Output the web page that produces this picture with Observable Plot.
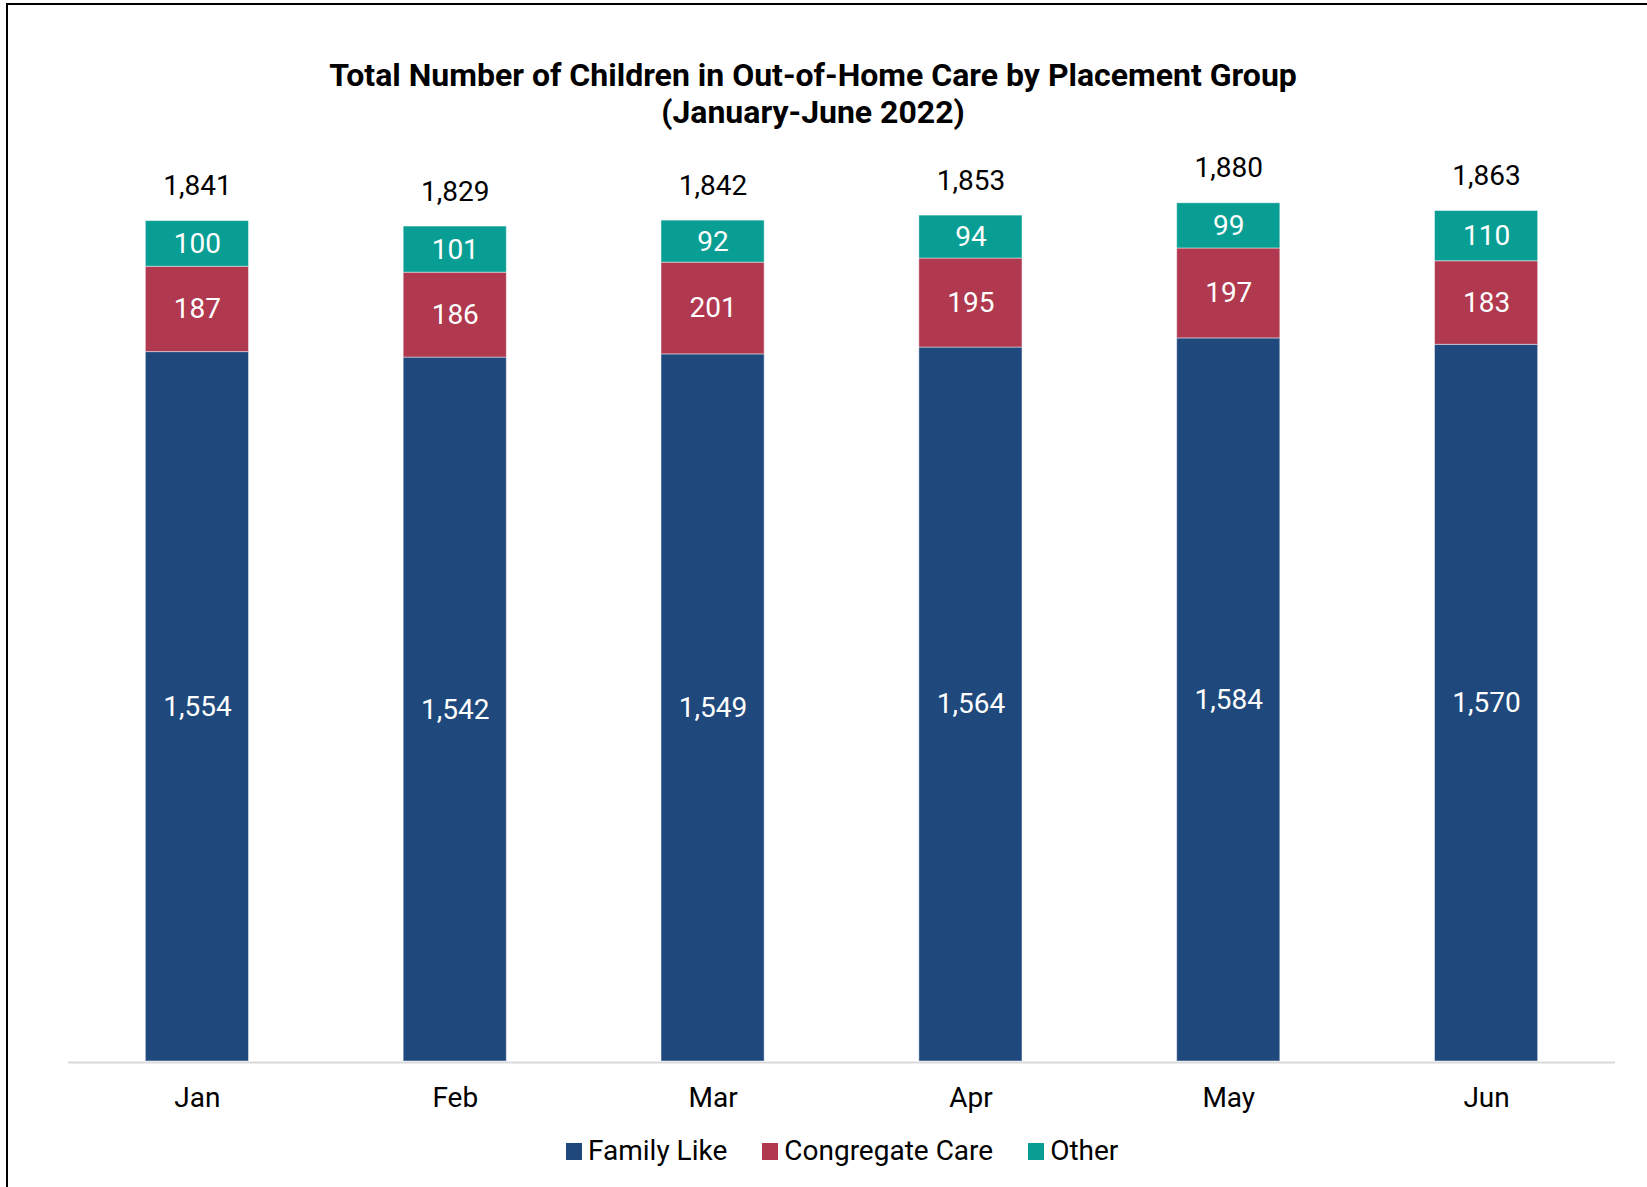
<!DOCTYPE html>
<html>
<head>
<meta charset="utf-8">
<script src="https://cdn.jsdelivr.net/npm/d3@7"></script>
<script src="https://cdn.jsdelivr.net/npm/@observablehq/plot@0.6"></script>
<style>
  html, body { margin: 0; padding: 0; background: #fff; }
  #page { position: relative; width: 1647px; height: 1187px; overflow: hidden; font-family: Roboto, "Noto Sans", sans-serif; }
  #frame { position: absolute; left: 6px; top: 3px; width: 1700px; height: 1300px; border: 2px solid #000; box-sizing: border-box; }
  #title { position: absolute; left: 0; top: 57px; width: 1626px; text-align: center; font-weight: 700; font-size: 32px; line-height: 37px; color: #000; }
  #chart { position: absolute; left: 0; top: 0; }
  #legend { position: absolute; left: 566px; top: 1136px; display: flex; align-items: center; font-size: 28px; line-height: 30px; color: #000; }
  .item { display: flex; align-items: center; margin-right: 35px; }
  .sw { width: 16px; height: 17px; margin-right: 6px; }
</style>
</head>
<body>
<div id="page">
  <div id="frame"></div>
  <div id="title">Total Number of Children in Out-of-Home Care by Placement Group<br>(January-June 2022)</div>
  <div id="chart"></div>
  <div id="legend"></div>
</div>
<script>
const months = ["Jan", "Feb", "Mar", "Apr", "May", "Jun"];
const groups = ["Family Like", "Congregate Care", "Other"];
const familyLike = [1554, 1542, 1549, 1564, 1584, 1570];
const congregateCare = [187, 186, 201, 195, 197, 183];
const other = [100, 101, 92, 94, 99, 110];
const totals = [1841, 1829, 1842, 1853, 1880, 1863];
const colors = ["#1F497D", "#B0394F", "#089E94"];

const series = [familyLike, congregateCare, other];
const rows = [];
months.forEach((m, i) => {
  let acc = 0;
  groups.forEach((g, k) => {
    const v = series[k][i];
    rows.push({month: m, group: g, value: v, y1: acc, y2: acc + v, mid: acc + v / 2});
    acc += v;
  });
});
const totalRows = months.map((m, i) => ({month: m, total: totals[i]}));
const fmt = d3.format(",");

const chart = Plot.plot({
  width: 1647,
  height: 1187,
  marginLeft: 68,
  marginRight: 32,
  marginTop: 148,
  marginBottom: 126,
  style: {fontFamily: "Roboto, sans-serif", background: "transparent", overflow: "visible"},
  x: {domain: months, paddingInner: 0.6, paddingOuter: 0.3, round: false, label: null},
  y: {domain: [0, 2000], axis: null},
  color: {domain: groups, range: colors},
  marks: [
    Plot.barY(rows, {x: "month", y1: "y1", y2: "y2", fill: "group", stroke: "white", strokeOpacity: 0.45, strokeWidth: 1}),
    Plot.ruleY([0], {stroke: "#d9d9d9", strokeWidth: 2, dy: 1}),
    Plot.text(rows, {x: "month", y: "mid", text: d => fmt(d.value), fill: "white", fontSize: 28}),
    Plot.text(totalRows, {x: "month", y: "total", text: d => fmt(d.total), fill: "black", fontSize: 28, dy: -35}),
    Plot.axisX({tickSize: 0, tickPadding: 26, fontSize: 28, label: null, fill: "black"})
  ]
});
document.getElementById("chart").appendChild(chart);

const legend = document.getElementById("legend");
groups.forEach((g, k) => {
  const it = document.createElement("div");
  it.className = "item";
  const sw = document.createElement("div");
  sw.className = "sw";
  sw.style.background = colors[k];
  const t = document.createElement("span");
  t.textContent = g;
  it.appendChild(sw);
  it.appendChild(t);
  legend.appendChild(it);
});
</script>
</body>
</html>
